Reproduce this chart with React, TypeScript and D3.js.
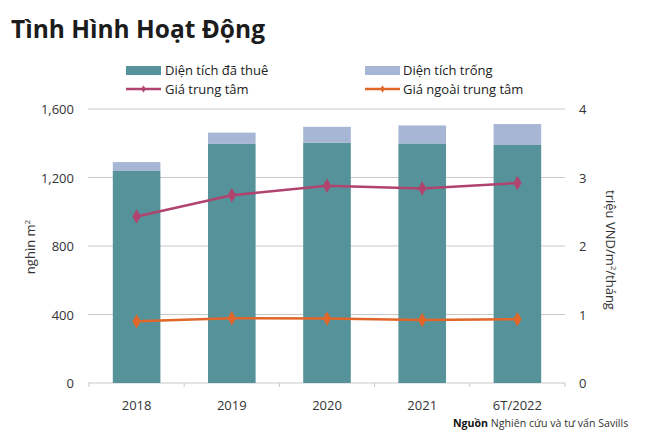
import React from "react";
import * as d3 from "d3";

const categories = ["2018", "2019", "2020", "2021", "6T/2022"];
const leased = [1238, 1396, 1404, 1399, 1390];
const vacant = [52, 66, 92, 105, 122];
const centralPrice = [2.43, 2.74, 2.88, 2.84, 2.92];
const outerPrice = [0.9, 0.945, 0.94, 0.92, 0.93];
const leftTicks = [0, 400, 800, 1200, 1600];
const rightTicks = [0, 1, 2, 3, 4];

const W = 650;
const H = 442;
const FONT = "'Open Sans', 'Noto Sans', sans-serif";
const C_LEASED = "#55929a";
const C_VACANT = "#a6b6d4";
const C_CENTRAL = "#b1446f";
const C_OUTER = "#e0662a";
const C_GRID = "#c9c9c9";
const C_TEXT = "#333";

export default function App() {
  const left = 89;
  const right = 565;
  const top = 109;
  const bottom = 383;

  const x = d3.scaleBand<string>().domain(categories).range([left, right]).paddingInner(0.5).paddingOuter(0.25);
  const yL = d3.scaleLinear().domain([0, 1600]).range([bottom, top]);
  const yR = d3.scaleLinear().domain([0, 4]).range([bottom, top]);
  const cx = (c: string) => (x(c) as number) + x.bandwidth() / 2;

  const line = d3
    .line<number>()
    .x((_, i) => cx(categories[i]))
    .y((d) => yR(d));

  const diamond = d3.symbol().type(d3.symbolDiamond).size(60)() as string;
  const smallDiamond = d3.symbol().type(d3.symbolDiamond).size(16)() as string;
  const step = (right - left) / categories.length;

  return (
    <svg width={W} height={H} style={{ position: "absolute", left: 0, top: 0, background: "#fff" }} fontFamily={FONT}>
      <text x={11} y={38} fontSize={24.5} fontWeight={700} fill="#1c1c1c">
        Tình Hình Hoạt Động
      </text>

      {/* Legend */}
      <g fontSize={13} fill="#222">
        <rect x={126} y={66} width={35} height={9} fill={C_LEASED} />
        <text x={165} y={75}>Diện tích đã thuê</text>
        <rect x={365} y={66} width={35} height={9} fill={C_VACANT} />
        <text x={403} y={75}>Diện tích trống</text>
        <line x1={126} x2={161} y1={89} y2={89} stroke={C_CENTRAL} strokeWidth={2.5} />
        <path d={smallDiamond} transform="translate(143.5,89)" fill={C_CENTRAL} />
        <text x={165} y={94}>Giá trung tâm</text>
        <line x1={365} x2={400} y1={89} y2={89} stroke={C_OUTER} strokeWidth={2.5} />
        <path d={smallDiamond} transform="translate(382.5,89)" fill={C_OUTER} />
        <text x={403} y={94}>Giá ngoài trung tâm</text>
      </g>

      {/* Gridlines */}
      {leftTicks.map((t) => (
        <line key={t} x1={left - 1} x2={right} y1={yL(t)} y2={yL(t)} stroke={C_GRID} strokeWidth={1} />
      ))}

      {/* x ticks */}
      {d3.range(categories.length + 1).map((i) => (
        <line key={i} x1={left + i * step} x2={left + i * step} y1={bottom} y2={bottom + 4} stroke={C_GRID} />
      ))}

      {/* Bars */}
      {categories.map((c, i) => (
        <g key={c}>
          <rect x={x(c)} y={yL(leased[i])} width={x.bandwidth()} height={yL(0) - yL(leased[i])} fill={C_LEASED} />
          <rect
            x={x(c)}
            y={yL(leased[i] + vacant[i])}
            width={x.bandwidth()}
            height={yL(leased[i]) - yL(leased[i] + vacant[i])}
            fill={C_VACANT}
          />
        </g>
      ))}

      {/* Lines */}
      <path d={line(centralPrice) as string} fill="none" stroke={C_CENTRAL} strokeWidth={2.5} />
      {centralPrice.map((v, i) => (
        <path key={i} d={diamond} transform={`translate(${cx(categories[i])},${yR(v)})`} fill={C_CENTRAL} />
      ))}
      <path d={line(outerPrice) as string} fill="none" stroke={C_OUTER} strokeWidth={2.5} />
      {outerPrice.map((v, i) => (
        <path key={i} d={diamond} transform={`translate(${cx(categories[i])},${yR(v)})`} fill={C_OUTER} />
      ))}

      {/* Left axis labels */}
      <g fontSize={13} fill={C_TEXT} textAnchor="end">
        {leftTicks.map((t) => (
          <text key={t} x={74} y={yL(t) + 5}>
            {d3.format(",")(t)}
          </text>
        ))}
      </g>
      {/* Right axis labels */}
      <g fontSize={13} fill={C_TEXT} textAnchor="start">
        {rightTicks.map((t) => (
          <text key={t} x={579} y={yR(t) + 5}>
            {t}
          </text>
        ))}
      </g>

      {/* x labels */}
      <g fontSize={13} fill={C_TEXT} textAnchor="middle">
        {categories.map((c) => (
          <text key={c} x={cx(c)} y={410}>
            {c}
          </text>
        ))}
      </g>

      {/* Axis titles */}
      <text transform="translate(35,247) rotate(-90)" textAnchor="middle" fontSize={13} fill={C_TEXT}>
        nghìn m<tspan fontSize={8} dy={-5}>2</tspan>
      </text>
      <text transform="translate(606,250) rotate(90)" textAnchor="middle" fontSize={13} fill={C_TEXT}>
        triệu VND/m<tspan fontSize={8} dy={-5}>2</tspan>
        <tspan dy={5}>/tháng</tspan>
      </text>

      {/* Source */}
      <text x={453} y={427} fontSize={10.6} fill="#333">
        <tspan fontWeight={700} fill="#111">Nguồn</tspan> Nghiên cứu và tư vấn Savills
      </text>
    </svg>
  );
}
